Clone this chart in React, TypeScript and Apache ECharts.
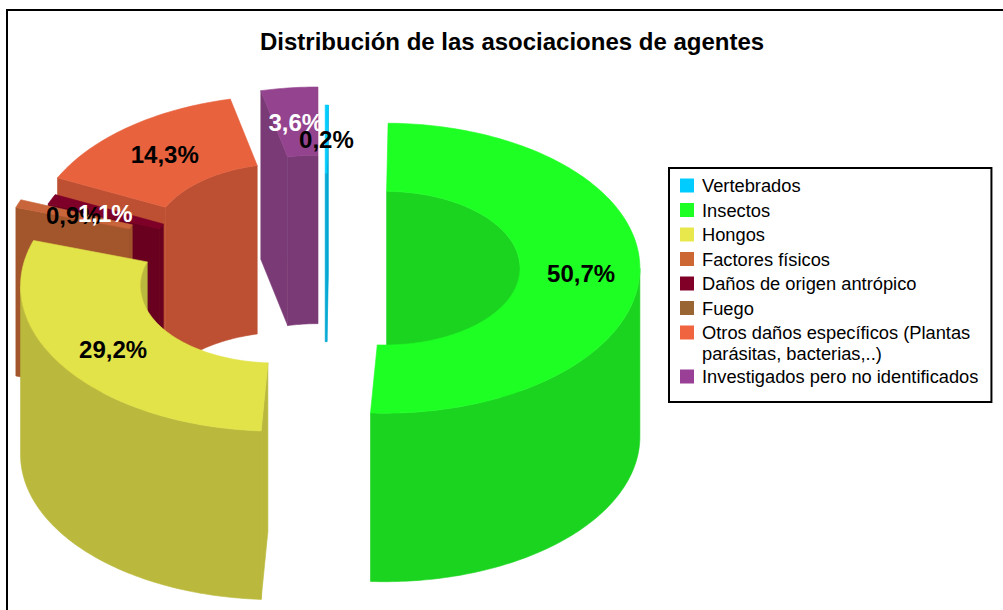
import React, { useEffect, useRef } from "react";
import * as echarts from "echarts";

const TITLE = "Distribución de las asociaciones de agentes";
const categories = [
  "Vertebrados",
  "Insectos",
  "Hongos",
  "Factores físicos",
  "Daños de origen antrópico",
  "Fuego",
  "Otros daños específicos (Plantas parásitas, bacterias,..)",
  "Investigados pero no identificados",
];
const values = [0.2, 50.7, 29.2, 0.9, 1.1, 0, 14.3, 3.6];
const topColors = ["#00CCFF", "#1EFF24", "#E2E249", "#C9653A", "#7E0028", "#996633", "#E8623E", "#94448E"];
const sideColors = ["#00A8D4", "#1BD420", "#BAB93D", "#A3552C", "#690020", "#7F5429", "#BD5032", "#7A3A76"];
const legendColors = ["#00CCFF", "#1EFF24", "#E8E84C", "#CC6633", "#800028", "#996633", "#F0643F", "#993F96"];
const labelColors = ["#000", "#000", "#000", "#000", "#fff", "#000", "#000", "#fff"];
const explode = [0.117, 0.235, 0.2345, 0.28, 0.17, 0.17, 0.235, 0.243];
const paintOrder = [0, 7, 6, 5, 4, 3, 2, 1];

const CX = 325, CY = 267, RX = 255, RY = 145, HOLE = 0.53, DEPTH = 168.5;
const total = values.reduce((a, b) => a + b, 0);
const FONT = "Liberation Sans";

const rad = (d: number) => (d * Math.PI) / 180;
function sliceGeom(i: number) {
  const before = values.slice(0, i).reduce((a, b) => a + b, 0);
  const start = (before / total) * 360;
  const end = ((before + values[i]) / total) * 360;
  const mid = (start + end) / 2;
  const cx = CX + explode[i] * RX * Math.sin(rad(mid));
  const cy = CY - explode[i] * RY * Math.cos(rad(mid));
  return { start, end, mid, cx, cy };
}
function arc(cx: number, cy: number, k: number, a: number, b: number, dy = 0) {
  const n = Math.max(1, Math.ceil(Math.abs(b - a)));
  const pts: number[][] = [];
  for (let j = 0; j <= n; j++) {
    const t = rad(a + ((b - a) * j) / n);
    pts.push([cx + k * RX * Math.sin(t), cy - k * RY * Math.cos(t) + dy]);
  }
  return pts;
}
function clipRange(s: number, e: number, lo: number, hi: number) {
  const a = Math.max(s, lo), b = Math.min(e, hi);
  return b > a ? [[a, b]] : [];
}
function poly(points: number[][], color: string) {
  return {
    type: "polygon",
    shape: { points },
    style: { fill: color, stroke: color, lineWidth: 0.6 },
  };
}
function drawSlice(i: number) {
  if (values[i] <= 0) return { type: "group", children: [] };
  const { start, end, cx, cy } = sliceGeom(i);
  const side = sideColors[i];
  const children: any[] = [];
  const band = (k: number, a: number, b: number) => {
    const top = arc(cx, cy, k, a, b);
    const bottom = arc(cx, cy, k, a, b, DEPTH).reverse();
    children.push(poly(top.concat(bottom), side));
  };
  [...clipRange(start, end, 0, 90), ...clipRange(start, end, 270, 360)].forEach(([a, b]) => band(HOLE, a, b));
  const cut = (a: number) => {
    const t = rad(a);
    const o = [cx + RX * Math.sin(t), cy - RY * Math.cos(t)];
    const n = [cx + HOLE * RX * Math.sin(t), cy - HOLE * RY * Math.cos(t)];
    children.push(poly([o, n, [n[0], n[1] + DEPTH], [o[0], o[1] + DEPTH]], side));
  };
  if (Math.sin(rad(start)) < 0) cut(start);
  if (Math.sin(rad(end)) > 0) cut(end);
  clipRange(start, end, 90, 270).forEach(([a, b]) => band(1, a, b));
  const topPts = arc(cx, cy, 1, start, end).concat(arc(cx, cy, HOLE, end, start));
  children.push(poly(topPts, topColors[i]));
  return { type: "group", children };
}

const LEGEND_TEXT = { fontFamily: FONT, fontSize: 18.3, color: "#000", lineHeight: 21 };

export default function App() {
  const ref = useRef<HTMLDivElement>(null);
  useEffect(() => {
    const chart = echarts.init(ref.current!, undefined, { renderer: "svg" });
    const series: any[] = categories.map((name, i) => ({
      type: "custom",
      name,
      coordinateSystem: "none",
      z: 2 + paintOrder.indexOf(i),
      silent: true,
      itemStyle: { color: legendColors[i] },
      data: [[values[i]]],
      renderItem: () => drawSlice(i),
    }));
    series.push({
      type: "custom",
      name: "etiquetas",
      coordinateSystem: "none",
      z: 30,
      silent: true,
      data: values.map((v) => [v]),
      renderItem: (p: any) => {
        const i = p.dataIndex;
        if (values[i] <= 0) return { type: "group", children: [] };
        const g = sliceGeom(i);
        const k = (1 + HOLE) / 2 + 0.005;
        return {
          type: "text",
          x: g.cx + k * RX * Math.sin(rad(g.mid)),
          y: g.cy - k * RY * Math.cos(rad(g.mid)) + 1,
          style: {
            text: values[i].toFixed(1).replace(".", ",") + "%",
            fill: labelColors[i],
            font: `bold 24px "${FONT}"`,
            align: "center",
            verticalAlign: "middle",
          },
        };
      },
    });
    chart.setOption({
      animation: false,
      backgroundColor: "#fff",
      title: {
        text: TITLE,
        left: 260,
        top: 29,
        padding: 0,
        textStyle: { fontFamily: FONT, fontWeight: "bold", fontSize: 24, color: "#000" },
      },
      legend: {
        orient: "vertical",
        left: 669,
        top: 168,
        padding: [7, 13, 15, 11],
        itemWidth: 14,
        itemHeight: 14,
        itemGap: 3.5,
        selectedMode: false,
        borderColor: "#000",
        borderWidth: 2,
        backgroundColor: "#fff",
        icon: "rect",
        itemStyle: { borderWidth: 0 },
        textStyle: { ...LEGEND_TEXT, padding: [0, 0, 0, 3] },
        formatter: (n: string) =>
          n.includes("Plantas parásitas")
            ? n
                .split("Plantas parásitas")
                .join("Plantas\nparásitas")
                .split("\n")
                .map((l) => `{a|${l}}`)
                .join("\n")
            : n,
        data: categories.map((name) =>
          name.includes("Plantas parásitas")
            ? { name, textStyle: { ...LEGEND_TEXT, padding: [0, 0, -21, 3], rich: { a: LEGEND_TEXT } } }
            : { name }
        ),
      },
      graphic: [
        {
          type: "rect",
          z: -1,
          silent: true,
          shape: { x: 7, y: 10, width: 1010, height: 620 },
          style: { fill: "none", stroke: "#000", lineWidth: 2 },
        },
      ],
      series,
    });
    return () => chart.dispose();
  }, []);
  return <div ref={ref} style={{ position: "absolute", left: 0, top: 0, width: 1003, height: 610 }} />;
}
